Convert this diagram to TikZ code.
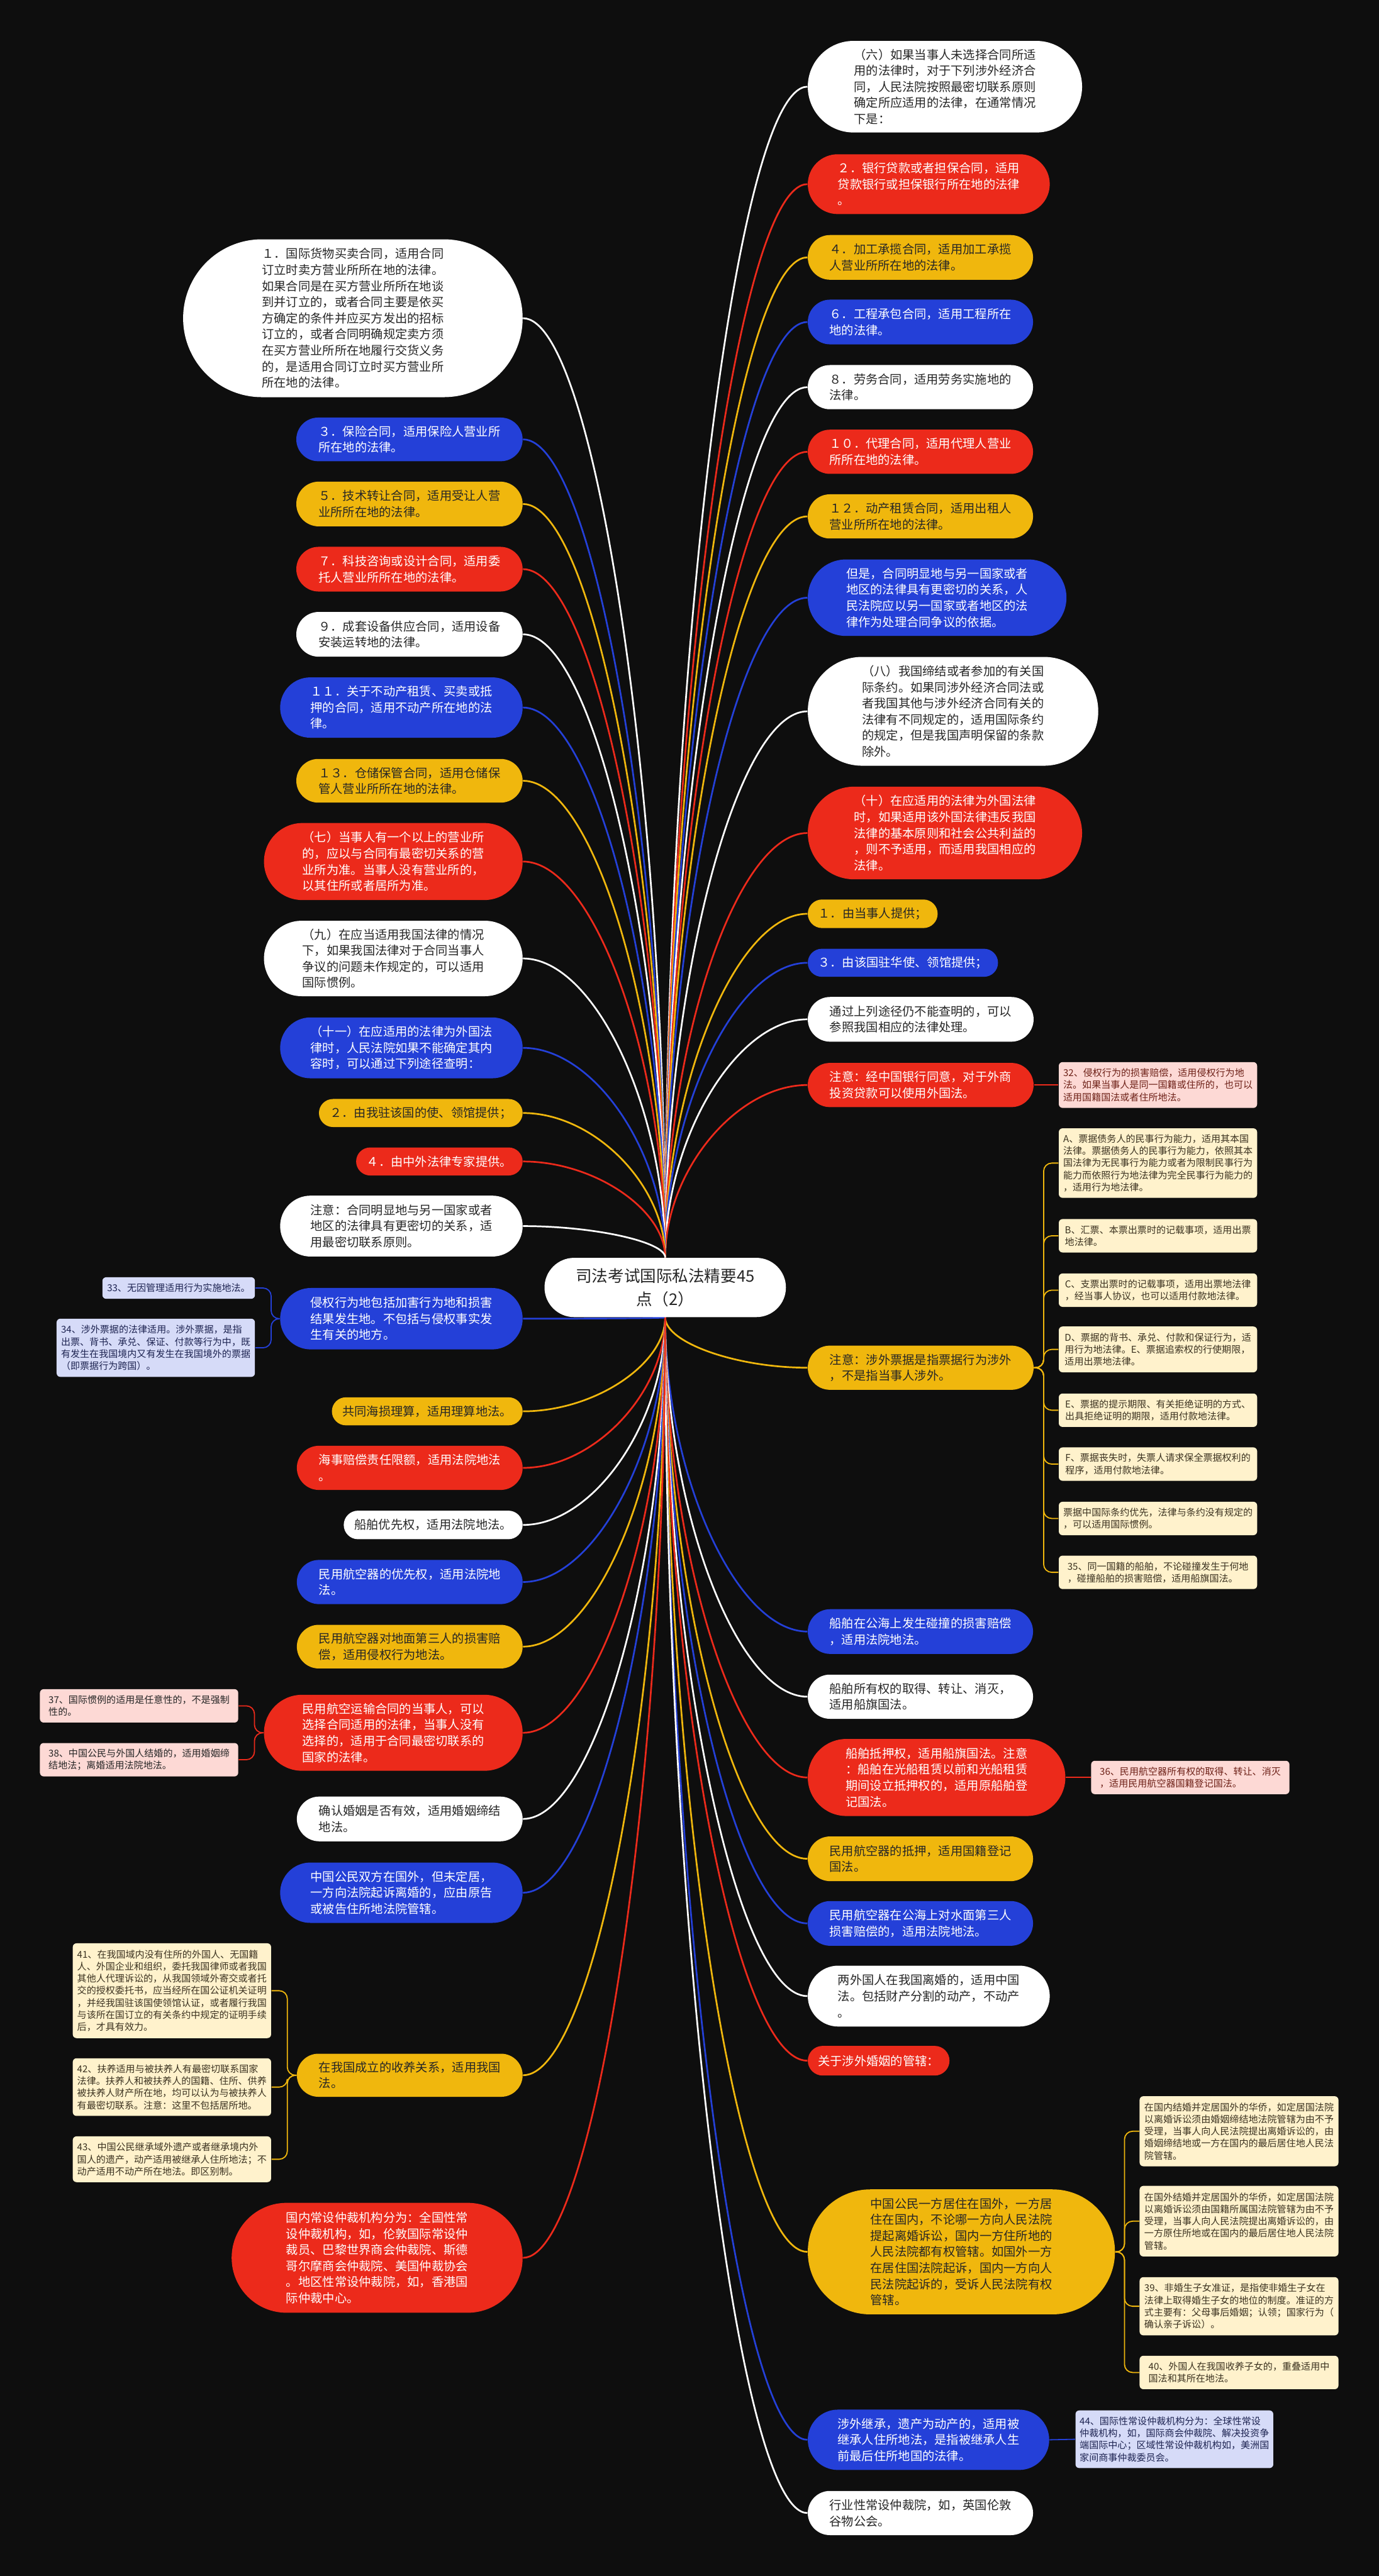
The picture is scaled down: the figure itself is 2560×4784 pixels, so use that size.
\documentclass[tikz,border=0pt]{standalone}
\usepackage{fontspec}
\setmainfont{Noto Sans CJK SC}
\usepackage{tikz}
\usetikzlibrary{positioning,shapes.misc,backgrounds,calc}
\definecolor{canvas}{HTML}{0E0E0E}
\definecolor{mmblue}{HTML}{2440D8}
\definecolor{mmred}{HTML}{EC2A1B}
\definecolor{mmyellow}{HTML}{F0B70D}
\definecolor{mmwhite}{HTML}{FFFFFF}
\definecolor{ink}{HTML}{262626}
\definecolor{notepink}{HTML}{FDD9D5}
\definecolor{noteyellow}{HTML}{FFF2CC}
\definecolor{notelilac}{HTML}{D6DBF8}
\definecolor{pinkink}{HTML}{6E2118}
\definecolor{lilacink}{HTML}{1E2452}
\definecolor{yellowink}{HTML}{3B3220}
\tikzset{
  topic/.style={
    rounded rectangle, fill=#1, draw=none, text=ink,
    align=left, inner sep=2pt,
    font=\fontsize{6.4pt}{8.5pt}\selectfont
  },
  topic/.default=mmwhite,
  topicw/.style={topic=#1, text=white},
  memo/.style 2 args={
    rectangle, rounded corners=0.07cm, fill=#1, text=#2,
    align=left, inner sep=2pt,
    font=\fontsize{5pt}{6.4pt}\selectfont
  },
  link/.style={draw=#1, line width=0.9pt,
    to path={.. controls ($(\tikztostart)!0.5!(\tikztostart |- \tikztotarget)$)
      and ($(\tikztostart |- \tikztotarget)!0.5!(\tikztotarget)$) .. (\tikztotarget)}},
  twig/.style={draw=#1, line width=0.6pt, rounded corners=0.15cm},
}

\begin{document}
\begin{tikzpicture}[x=0.01cm, y=-0.01cm]
  \useasboundingbox (0,0) rectangle (2560,4784);

  % centre
  \node[topic, align=center, font=\fontsize{8.5pt}{12.2pt}\selectfont,
        minimum width=4.62cm, minimum height=1.10cm] (root) at (1235,2391)
    {司法考试国际私法精要45\\点（2）};

  % right branches
  \node[topic=mmwhite, anchor=west, minimum width=5.23cm, minimum height=1.70cm] (r1) at (1499,161)
    {（六）如果当事人未选择合同所适\\用的法律时，对于下列涉外经济合\\同，人民法院按照最密切联系原则\\确定所应适用的法律，在通常情况\\下是：};
  \node[topicw=mmred, anchor=west, minimum width=4.63cm, minimum height=1.11cm] (r2) at (1499,342)
    {２．银行贷款或者担保合同，适用\\贷款银行或担保银行所在地的法律\\。};
  \node[topic=mmyellow, anchor=west, minimum width=4.32cm, minimum height=0.83cm] (r3) at (1499,478)
    {４．加工承揽合同，适用加工承揽\\人营业所所在地的法律。};
  \node[topicw=mmblue, anchor=west, minimum width=4.32cm, minimum height=0.83cm] (r4) at (1499,598)
    {６．工程承包合同，适用工程所在\\地的法律。};
  \node[topic=mmwhite, anchor=west, minimum width=4.32cm, minimum height=0.82cm] (r5) at (1499,719)
    {８．劳务合同，适用劳务实施地的\\法律。};
  \node[topicw=mmred, anchor=west, minimum width=4.32cm, minimum height=0.82cm] (r6) at (1499,839)
    {１０．代理合同，适用代理人营业\\所所在地的法律。};
  \node[topic=mmyellow, anchor=west, minimum width=4.32cm, minimum height=0.82cm] (r7) at (1499,959)
    {１２．动产租赁合同，适用出租人\\营业所所在地的法律。};
  \node[topicw=mmblue, anchor=west, minimum width=4.94cm, minimum height=1.42cm] (r8) at (1499,1110)
    {但是，合同明显地与另一国家或者\\地区的法律具有更密切的关系，人\\民法院应以另一国家或者地区的法\\律作为处理合同争议的依据。};
  \node[topic=mmwhite, anchor=west, minimum width=5.53cm, minimum height=2.02cm] (r9) at (1499,1321)
    {（八）我国缔结或者参加的有关国\\际条约。如果同涉外经济合同法或\\者我国其他与涉外经济合同有关的\\法律有不同规定的，适用国际条约\\的规定，但是我国声明保留的条款\\除外。};
  \node[topicw=mmred, anchor=west, minimum width=5.23cm, minimum height=1.72cm] (r10) at (1499,1547)
    {（十）在应适用的法律为外国法律\\时，如果适用该外国法律违反我国\\法律的基本原则和社会公共利益的\\，则不予适用，而适用我国相应的\\法律。};
  \node[topic=mmyellow, anchor=west, minimum width=2.55cm, minimum height=0.53cm] (r11) at (1499,1697)
    {１．由当事人提供；};
  \node[topicw=mmblue, anchor=west, minimum width=3.67cm, minimum height=0.52cm] (r12) at (1499,1788)
    {３．由该国驻华使、领馆提供；};
  \node[topic=mmwhite, anchor=west, minimum width=4.33cm, minimum height=0.83cm] (r13) at (1499,1893)
    {通过上列途径仍不能查明的，可以\\参照我国相应的法律处理。};
  \node[topicw=mmred, anchor=west, minimum width=4.33cm, minimum height=0.82cm] (r14) at (1499,2015)
    {注意：经中国银行同意，对于外商\\投资贷款可以使用外国法。};
  \node[topic=mmyellow, anchor=west, minimum width=4.33cm, minimum height=0.82cm] (r15) at (1499,2540)
    {注意：涉外票据是指票据行为涉外\\，不是指当事人涉外。};
  \node[topicw=mmblue, anchor=west, minimum width=4.32cm, minimum height=0.83cm] (r16) at (1499,3030)
    {船舶在公海上发生碰撞的损害赔偿\\，适用法院地法。};
  \node[topic=mmwhite, anchor=west, minimum width=4.32cm, minimum height=0.82cm] (r17) at (1499,3151)
    {船舶所有权的取得、转让、消灭，\\适用船旗国法。};
  \node[topicw=mmred, anchor=west, minimum width=4.92cm, minimum height=1.43cm] (r18) at (1499,3301)
    {船舶抵押权，适用船旗国法。注意\\：船舶在光船租赁以前和光船租赁\\期间设立抵押权的，适用原船舶登\\记国法。};
  \node[topic=mmyellow, anchor=west, minimum width=4.32cm, minimum height=0.83cm] (r19) at (1499,3452)
    {民用航空器的抵押，适用国籍登记\\国法。};
  \node[topicw=mmblue, anchor=west, minimum width=4.32cm, minimum height=0.83cm] (r20) at (1499,3572)
    {民用航空器在公海上对水面第三人\\损害赔偿的，适用法院地法。};
  \node[topic=mmwhite, anchor=west, minimum width=4.63cm, minimum height=1.13cm] (r21) at (1499,3707)
    {两外国人在我国离婚的，适用中国\\法。包括财产分割的动产，不动产\\。};
  \node[topicw=mmred, anchor=west, minimum width=2.77cm, minimum height=0.55cm] (r22) at (1499,3827)
    {关于涉外婚姻的管辖：};
  \node[topic=mmyellow, anchor=west, minimum width=5.84cm, minimum height=2.32cm] (r23) at (1499,4182)
    {中国公民一方居住在国外，一方居\\住在国内，不论哪一方向人民法院\\提起离婚诉讼，国内一方住所地的\\人民法院都有权管辖。如国外一方\\在居住国法院起诉，国内一方向人\\民法院起诉的，受诉人民法院有权\\管辖。};
  \node[topicw=mmblue, anchor=west, minimum width=4.62cm, minimum height=1.12cm] (r24) at (1499,4531)
    {涉外继承，遗产为动产的，适用被\\继承人住所地法，是指被继承人生\\前最后住所地国的法律。};
  \node[topic=mmwhite, anchor=west, minimum width=4.32cm, minimum height=0.82cm] (r25) at (1499,4667)
    {行业性常设仲裁院，如，英国伦敦\\谷物公会。};

  % notes on the right
  \node[memo={notepink}{pinkink}, anchor=west, minimum width=3.68cm, minimum height=0.85cm] (n32) at (1965,2015)
    {32、侵权行为的损害赔偿，适用侵权行为地\\法。如果当事人是同一国籍或住所的，也可以\\适用国籍国法或者住所地法。};
  \node[memo={noteyellow}{yellowink}, anchor=west, minimum width=3.68cm, minimum height=1.29cm] (na) at (1965,2160)
    {A、票据债务人的民事行为能力，适用其本国\\法律。票据债务人的民事行为能力，依照其本\\国法律为无民事行为能力或者为限制民事行为\\能力而依照行为地法律为完全民事行为能力的\\，适用行为地法律。};
  \node[memo={noteyellow}{yellowink}, anchor=west, minimum width=3.68cm, minimum height=0.62cm] (nb) at (1965,2295)
    {B、汇票、本票出票时的记载事项，适用出票\\地法律。};
  \node[memo={noteyellow}{yellowink}, anchor=west, minimum width=3.68cm, minimum height=0.62cm] (nc) at (1965,2396)
    {C、支票出票时的记载事项，适用出票地法律\\，经当事人协议，也可以适用付款地法律。};
  \node[memo={noteyellow}{yellowink}, anchor=west, minimum width=3.68cm, minimum height=0.85cm] (nd) at (1965,2506)
    {D、票据的背书、承兑、付款和保证行为，适\\用行为地法律。E、票据追索权的行使期限，\\适用出票地法律。};
  \node[memo={noteyellow}{yellowink}, anchor=west, minimum width=3.68cm, minimum height=0.62cm] (ne) at (1965,2619)
    {E、票据的提示期限、有关拒绝证明的方式、\\出具拒绝证明的期限，适用付款地法律。};
  \node[memo={noteyellow}{yellowink}, anchor=west, minimum width=3.68cm, minimum height=0.62cm] (nf) at (1965,2719)
    {F、票据丧失时，失票人请求保全票据权利的\\程序，适用付款地法律。};
  \node[memo={noteyellow}{yellowink}, anchor=west, minimum width=3.68cm, minimum height=0.62cm] (ng) at (1965,2820)
    {票据中国际条约优先，法律与条约没有规定的\\，可以适用国际惯例。};
  \node[memo={noteyellow}{yellowink}, anchor=west, minimum width=3.68cm, minimum height=0.62cm] (n35) at (1965,2920)
    {35、同一国籍的船舶，不论碰撞发生于何地\\，碰撞船舶的损害赔偿，适用船旗国法。};
  \node[memo={notepink}{pinkink}, anchor=west, minimum width=3.68cm, minimum height=0.62cm] (n36) at (2025,3301)
    {36、民用航空器所有权的取得、转让、消灭\\，适用民用航空器国籍登记国法。};
  \node[memo={noteyellow}{yellowink}, anchor=west, minimum width=3.69cm, minimum height=1.30cm] (nm1) at (2115,3958)
    {在国内结婚并定居国外的华侨，如定居国法院\\以离婚诉讼须由婚姻缔结地法院管辖为由不予\\受理，当事人向人民法院提出离婚诉讼的，由\\婚姻缔结地或一方在国内的最后居住地人民法\\院管辖。};
  \node[memo={noteyellow}{yellowink}, anchor=west, minimum width=3.69cm, minimum height=1.31cm] (nm2) at (2115,4125)
    {在国外结婚并定居国外的华侨，如定居国法院\\以离婚诉讼须由国籍所属国法院管辖为由不予\\受理，当事人向人民法院提出离婚诉讼的，由\\一方原住所地或在国内的最后居住地人民法院\\管辖。};
  \node[memo={noteyellow}{yellowink}, anchor=west, minimum width=3.69cm, minimum height=1.08cm] (n39) at (2115,4283)
    {39、非婚生子女准证，是指使非婚生子女在\\法律上取得婚生子女的地位的制度。准证的方\\式主要有：父母事后婚姻；认领；国家行为（\\确认亲子诉讼）。};
  \node[memo={noteyellow}{yellowink}, anchor=west, minimum width=3.69cm, minimum height=0.62cm] (n40) at (2115,4406)
    {40、外国人在我国收养子女的，重叠适用中\\国法和其所在地法。};
  \node[memo={notelilac}{lilacink}, anchor=west, minimum width=3.67cm, minimum height=1.07cm] (n44) at (1996,4530)
    {44、国际性常设仲裁机构分为：全球性常设\\仲裁机构，如，国际商会仲裁院、解决投资争\\端国际中心；区域性常设仲裁机构如，美洲国\\家间商事仲裁委员会。};

  % left branches
  \node[topic=mmwhite, anchor=east, minimum width=6.44cm, minimum height=2.93cm] (l1) at (971,591)
    {１．国际货物买卖合同，适用合同\\订立时卖方营业所所在地的法律。\\如果合同是在买方营业所所在地谈\\到并订立的，或者合同主要是依买\\方确定的条件并应买方发出的招标\\订立的，或者合同明确规定卖方须\\在买方营业所所在地履行交货义务\\的，是适用合同订立时买方营业所\\所在地的法律。};
  \node[topicw=mmblue, anchor=east, minimum width=4.34cm, minimum height=0.81cm] (l2) at (971,816)
    {３．保险合同，适用保险人营业所\\所在地的法律。};
  \node[topic=mmyellow, anchor=east, minimum width=4.34cm, minimum height=0.83cm] (l3) at (971,936)
    {５．技术转让合同，适用受让人营\\业所所在地的法律。};
  \node[topicw=mmred, anchor=east, minimum width=4.34cm, minimum height=0.83cm] (l4) at (971,1057)
    {７．科技咨询或设计合同，适用委\\托人营业所所在地的法律。};
  \node[topic=mmwhite, anchor=east, minimum width=4.34cm, minimum height=0.83cm] (l5) at (971,1178)
    {９．成套设备供应合同，适用设备\\安装运转地的法律。};
  \node[topicw=mmblue, anchor=east, minimum width=4.64cm, minimum height=1.12cm] (l6) at (971,1314)
    {１１．关于不动产租赁、买卖或抵\\押的合同，适用不动产所在地的法\\律。};
  \node[topic=mmyellow, anchor=east, minimum width=4.34cm, minimum height=0.81cm] (l7) at (971,1450)
    {１３．仓储保管合同，适用仓储保\\管人营业所所在地的法律。};
  \node[topicw=mmred, anchor=east, minimum width=4.94cm, minimum height=1.43cm] (l8) at (971,1600)
    {（七）当事人有一个以上的营业所\\的，应以与合同有最密切关系的营\\业所为准。当事人没有营业所的，\\以其住所或者居所为准。};
  \node[topic=mmwhite, anchor=east, minimum width=4.94cm, minimum height=1.40cm] (l9) at (971,1780)
    {（九）在应当适用我国法律的情况\\下，如果我国法律对于合同当事人\\争议的问题未作规定的，可以适用\\国际惯例。};
  \node[topicw=mmblue, anchor=east, minimum width=4.64cm, minimum height=1.13cm] (l10) at (971,1946)
    {（十一）在应适用的法律为外国法\\律时，人民法院如果不能确定其内\\容时，可以通过下列途径查明：};
  \node[topic=mmyellow, anchor=east, minimum width=3.92cm, minimum height=0.52cm] (l11) at (971,2067)
    {２．由我驻该国的使、领馆提供；};
  \node[topicw=mmred, anchor=east, minimum width=3.23cm, minimum height=0.52cm] (l12) at (971,2157)
    {４．由中外法律专家提供。};
  \node[topic=mmwhite, anchor=east, minimum width=4.64cm, minimum height=1.13cm] (l13) at (971,2277)
    {注意：合同明显地与另一国家或者\\地区的法律具有更密切的关系，适\\用最密切联系原则。};
  \node[topicw=mmblue, anchor=east, minimum width=4.64cm, minimum height=1.14cm] (l14) at (971,2449)
    {侵权行为地包括加害行为地和损害\\结果发生地。不包括与侵权事实发\\生有关的地方。};
  \node[topic=mmyellow, anchor=east, minimum width=3.68cm, minimum height=0.52cm] (l15) at (971,2621)
    {共同海损理算，适用理算地法。};
  \node[topicw=mmred, anchor=east, minimum width=4.33cm, minimum height=0.82cm] (l16) at (971,2726)
    {海事赔偿责任限额，适用法院地法\\。};
  \node[topic=mmwhite, anchor=east, minimum width=3.46cm, minimum height=0.53cm] (l17) at (971,2832)
    {船舶优先权，适用法院地法。};
  \node[topicw=mmblue, anchor=east, minimum width=4.33cm, minimum height=0.82cm] (l18) at (971,2938)
    {民用航空器的优先权，适用法院地\\法。};
  \node[topic=mmyellow, anchor=east, minimum width=4.33cm, minimum height=0.81cm] (l19) at (971,3058)
    {民用航空器对地面第三人的损害赔\\偿，适用侵权行为地法。};
  \node[topicw=mmred, anchor=east, minimum width=4.94cm, minimum height=1.41cm] (l20) at (971,3218)
    {民用航空运输合同的当事人，可以\\选择合同适用的法律，当事人没有\\选择的，适用于合同最密切联系的\\国家的法律。};
  \node[topic=mmwhite, anchor=east, minimum width=4.33cm, minimum height=0.83cm] (l21) at (971,3378)
    {确认婚姻是否有效，适用婚姻缔结\\地法。};
  \node[topicw=mmblue, anchor=east, minimum width=4.64cm, minimum height=1.12cm] (l22) at (971,3515)
    {中国公民双方在国外，但未定居，\\一方向法院起诉离婚的，应由原告\\或被告住所地法院管辖。};
  \node[topic=mmyellow, anchor=east, minimum width=4.33cm, minimum height=0.80cm] (l23) at (971,3854)
    {在我国成立的收养关系，适用我国\\法。};
  \node[topicw=mmred, anchor=east, minimum width=5.54cm, minimum height=2.04cm] (l24) at (971,4193)
    {国内常设仲裁机构分为：全国性常\\设仲裁机构，如，伦敦国际常设仲\\裁员、巴黎世界商会仲裁院、斯德\\哥尔摩商会仲裁院、美国仲裁协会\\。地区性常设仲裁院，如，香港国\\际仲裁中心。};

  % notes on the left
  \node[memo={notelilac}{lilacink}, anchor=east, minimum width=2.83cm, minimum height=0.40cm] (n33) at (474,2392)
    {33、无因管理适用行为实施地法。};
  \node[memo={notelilac}{lilacink}, anchor=east, minimum width=3.68cm, minimum height=1.08cm] (n34) at (474,2503)
    {34、涉外票据的法律适用。涉外票据，是指\\出票、背书、承兑、保证、付款等行为中，既\\有发生在我国境内又有发生在我国境外的票据\\（即票据行为跨国）。};
  \node[memo={notepink}{ink}, anchor=east, minimum width=3.68cm, minimum height=0.62cm] (n37) at (443,3168)
    {37、国际惯例的适用是任意性的，不是强制\\性的。};
  \node[memo={notepink}{ink}, anchor=east, minimum width=3.68cm, minimum height=0.62cm] (n38) at (443,3268)
    {38、中国公民与外国人结婚的，适用婚姻缔\\结地法；离婚适用法院地法。};
  \node[memo={noteyellow}{yellowink}, anchor=east, minimum width=3.68cm, minimum height=1.76cm] (n41) at (504,3697)
    {41、在我国域内没有住所的外国人、无国籍\\人、外国企业和组织，委托我国律师或者我国\\其他人代理诉讼的，从我国领域外寄交或者托\\交的授权委托书，应当经所在国公证机关证明\\，并经我国驻该国使领馆认证，或者履行我国\\与该所在国订立的有关条约中规定的证明手续\\后，才具有效力。};
  \node[memo={noteyellow}{yellowink}, anchor=east, minimum width=3.68cm, minimum height=1.07cm] (n42) at (504,3876)
    {42、扶养适用与被扶养人有最密切联系国家\\法律。扶养人和被扶养人的国籍、住所、供养\\被扶养人财产所在地，均可以认为与被扶养人\\有最密切联系。注意：这里不包括居所地。};
  \node[memo={noteyellow}{yellowink}, anchor=east, minimum width=3.68cm, minimum height=0.85cm] (n43) at (504,4010)
    {43、中国公民继承域外遗产或者继承境内外\\国人的遗产，动产适用被继承人住所地法；不\\动产适用不动产所在地法。即区别制。};

  \begin{pgfonlayer}{background}
    \fill[canvas] (0,0) rectangle (2560,4784);
    % centre to right, upper half
    \draw[link=mmwhite] (root.north) to (r1.west);
    \draw[link=mmred] (root.north) to (r2.west);
    \draw[link=mmyellow] (root.north) to (r3.west);
    \draw[link=mmblue] (root.north) to (r4.west);
    \draw[link=mmwhite] (root.north) to (r5.west);
    \draw[link=mmred] (root.north) to (r6.west);
    \draw[link=mmyellow] (root.north) to (r7.west);
    \draw[link=mmblue] (root.north) to (r8.west);
    \draw[link=mmwhite] (root.north) to (r9.west);
    \draw[link=mmred] (root.north) to (r10.west);
    \draw[link=mmyellow] (root.north) to (r11.west);
    \draw[link=mmblue] (root.north) to (r12.west);
    \draw[link=mmwhite] (root.north) to (r13.west);
    \draw[link=mmred] (root.north) to (r14.west);
    % centre to right, lower half
    \draw[link=mmyellow] (root.south) to (r15.west);
    \draw[link=mmblue] (root.south) to (r16.west);
    \draw[link=mmwhite] (root.south) to (r17.west);
    \draw[link=mmred] (root.south) to (r18.west);
    \draw[link=mmyellow] (root.south) to (r19.west);
    \draw[link=mmblue] (root.south) to (r20.west);
    \draw[link=mmwhite] (root.south) to (r21.west);
    \draw[link=mmred] (root.south) to (r22.west);
    \draw[link=mmyellow] (root.south) to (r23.west);
    \draw[link=mmblue] (root.south) to (r24.west);
    \draw[link=mmwhite] (root.south) to (r25.west);
    % centre to left, upper half
    \draw[link=mmwhite] (root.north) to (l1.east);
    \draw[link=mmblue] (root.north) to (l2.east);
    \draw[link=mmyellow] (root.north) to (l3.east);
    \draw[link=mmred] (root.north) to (l4.east);
    \draw[link=mmwhite] (root.north) to (l5.east);
    \draw[link=mmblue] (root.north) to (l6.east);
    \draw[link=mmyellow] (root.north) to (l7.east);
    \draw[link=mmred] (root.north) to (l8.east);
    \draw[link=mmwhite] (root.north) to (l9.east);
    \draw[link=mmblue] (root.north) to (l10.east);
    \draw[link=mmyellow] (root.north) to (l11.east);
    \draw[link=mmred] (root.north) to (l12.east);
    \draw[link=mmwhite] (root.north) to (l13.east);
    % centre to left, lower half
    \draw[link=mmblue] (root.south) to (l14.east);
    \draw[link=mmyellow] (root.south) to (l15.east);
    \draw[link=mmred] (root.south) to (l16.east);
    \draw[link=mmwhite] (root.south) to (l17.east);
    \draw[link=mmblue] (root.south) to (l18.east);
    \draw[link=mmyellow] (root.south) to (l19.east);
    \draw[link=mmred] (root.south) to (l20.east);
    \draw[link=mmwhite] (root.south) to (l21.east);
    \draw[link=mmblue] (root.south) to (l22.east);
    \draw[link=mmyellow] (root.south) to (l23.east);
    \draw[link=mmred] (root.south) to (l24.east);
    % notes
    \draw[twig=mmred] (r14.east) -- (n32.west);
    \draw[twig=mmyellow] (r15.east) -- ++(18,0) |- (na.west);
    \draw[twig=mmyellow] (r15.east) -- ++(18,0) |- (nb.west);
    \draw[twig=mmyellow] (r15.east) -- ++(18,0) |- (nc.west);
    \draw[twig=mmyellow] (r15.east) -- ++(18,0) |- (nd.west);
    \draw[twig=mmyellow] (r15.east) -- ++(18,0) |- (ne.west);
    \draw[twig=mmyellow] (r15.east) -- ++(18,0) |- (nf.west);
    \draw[twig=mmyellow] (r15.east) -- ++(18,0) |- (ng.west);
    \draw[twig=mmyellow] (r15.east) -- ++(18,0) |- (n35.west);
    \draw[twig=mmred] (r18.east) -- (n36.west);
    \draw[twig=mmyellow] (r23.east) -- ++(17,0) |- (nm1.west);
    \draw[twig=mmyellow] (r23.east) -- ++(17,0) |- (nm2.west);
    \draw[twig=mmyellow] (r23.east) -- ++(17,0) |- (n39.west);
    \draw[twig=mmyellow] (r23.east) -- ++(17,0) |- (n40.west);
    \draw[twig=mmblue] (r24.east) -- (n44.west);
    \draw[twig=mmblue] (l14.west) -- ++(-16,0) |- (n33.east);
    \draw[twig=mmblue] (l14.west) -- ++(-16,0) |- (n34.east);
    \draw[twig=mmred] (l20.west) -- ++(-17,0) |- (n37.east);
    \draw[twig=mmred] (l20.west) -- ++(-17,0) |- (n38.east);
    \draw[twig=mmyellow] (l23.west) -- ++(-17,0) |- (n41.east);
    \draw[twig=mmyellow] (l23.west) -- ++(-17,0) |- (n42.east);
    \draw[twig=mmyellow] (l23.west) -- ++(-17,0) |- (n43.east);
  \end{pgfonlayer}
\end{tikzpicture}
\end{document}
